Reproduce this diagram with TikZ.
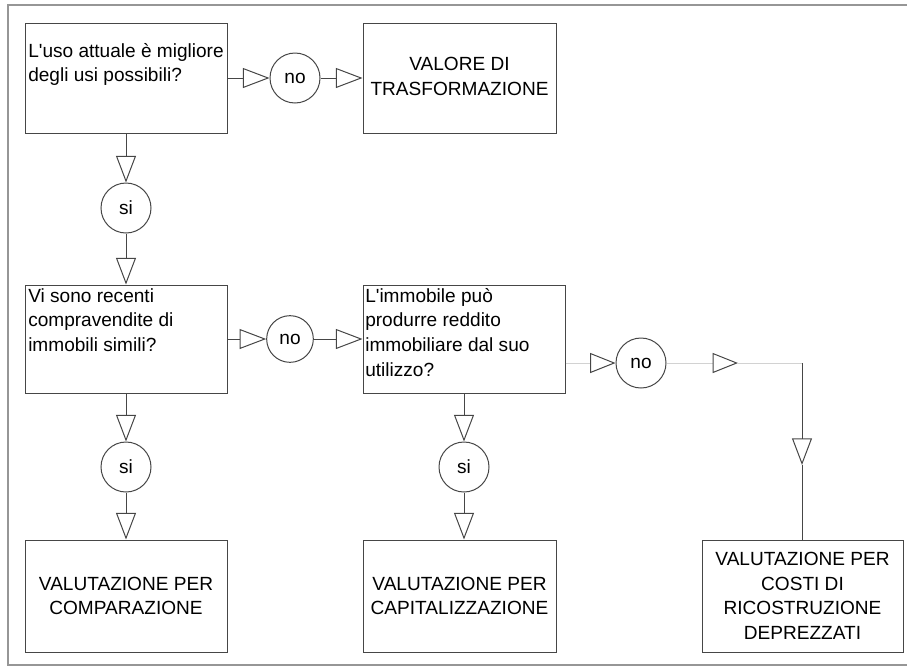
\documentclass[tikz,border=0pt]{standalone}
\usepackage{fontspec}
\setmainfont{Liberation Sans}
\usetikzlibrary{arrows.meta}
\definecolor{boxline}{RGB}{70,70,70}
\definecolor{faintline}{RGB}{210,210,210}
\definecolor{framegray}{RGB}{150,150,150}

\begin{document}
\begin{tikzpicture}[x=0.75pt,y=0.75pt,yscale=-1,xscale=1,
  every node/.style={font=\fontsize{14.3pt}{18.5pt}\selectfont},
  box/.style={draw=boxline, line width=0.75pt, rectangle, inner sep=0pt, align=center},
  answer/.style={draw=boxline, line width=0.75pt, circle, inner sep=0pt, minimum size=37.5pt},
  qtext/.style={anchor=north west, inner sep=0.75pt, align=left},
  flow/.style={draw=boxline, line width=0.75pt, -{Triangle[open, length=20pt, width=15pt]}},
  faintflow/.style={draw=faintline, line width=0.75pt, -{Triangle[open, length=19pt, width=15pt, color=boxline]}}]
\useasboundingbox (0,0) rectangle (907,668);

%Frame
\draw [framegray, line width=1.5pt] (915,5) -- (8,5) -- (8,665) -- (915,665) ;

%Shape: Rectangle
\node [box, minimum width=151.5pt, minimum height=82.5pt] (q1) at (126,78) {};
%Shape: Rectangle
\node [box, minimum width=144.75pt, minimum height=82.5pt] (valtr) at (459.5,78) {\raisebox{-5pt}{\begin{tabular}{@{}c@{}}VALORE DI\\TRASFORMAZIONE\end{tabular}}};
%Shape: Rectangle
\node [box, minimum width=151.5pt, minimum height=81pt] (q2) at (126,339) {};
%Shape: Rectangle
\node [box, minimum width=151.5pt, minimum height=81pt] (q3) at (464,339) {};
%Shape: Rectangle
\node [box, minimum width=151.5pt, minimum height=84pt] (val1) at (126,596) {VALUTAZIONE PER\\COMPARAZIONE};
%Shape: Rectangle
\node [box, minimum width=144.75pt, minimum height=84pt] (val2) at (459.5,596) {VALUTAZIONE PER\\CAPITALIZZAZIONE};
%Shape: Rectangle
\node [box, minimum width=150.75pt, minimum height=84pt] (val3) at (802.5,596) {VALUTAZIONE PER\\COSTI DI\\RICOSTRUZIONE\\DEPREZZATI};

% Text Node
\node [qtext] (q1txt) at (27,42) {L\textquotesingle uso attuale è migliore\\degli usi possibili?};
% Text Node
\node [qtext] (q2txt) at (27,287) {Vi sono recenti\\compravendite di\\immobili simili?};
% Text Node
\node [qtext] (q3txt) at (364,287) {L\textquotesingle immobile può\\produrre reddito\\immobiliare dal suo\\utilizzo?};

%Shape: Circle
\node [answer] (no1) at (295,78) {no};
%Shape: Circle
\node [answer] (si1) at (126,208) {si};
%Shape: Circle
\node [answer, minimum size=35pt] (no2) at (290,339) {no};
%Shape: Circle
\node [answer] (si2) at (126,467) {si};
%Shape: Circle
\node [answer] (si3) at (464,467) {si};
%Shape: Circle
\node [answer] (no3) at (641,363) {no};

%Straight Lines
\draw [flow] (q1) -- (no1) ;
\draw [flow] (no1) -- (valtr) ;
\draw [flow] (q1) -- (si1) ;
\draw [flow] (si1) -- (q2) ;
\draw [flow] (q2) -- (no2) ;
\draw [flow] (no2) -- (q3) ;
\draw [flow] (q2) -- (si2) ;
\draw [flow] (si2) -- (val1) ;
\draw [flow] (q3) -- (si3) ;
\draw [flow] (si3) -- (si3 |- val2.north) ;

%Straight Lines
\coordinate (m1) at (738,363) ;
\coordinate (bend) at (802,363) ;
\coordinate (m2) at (802,465) ;
\draw [faintflow] (q3.east |- no3) -- (no3) ;
\draw [faintflow] (no3) -- (m1) ;
\draw [faintline, line width=0.75pt] (m1) -- (bend) ;
\draw [flow] (bend) -- (m2) ;
\draw [boxline, line width=0.75pt] (m2) -- (m2 |- val3.north) ;

\end{tikzpicture}
\end{document}
